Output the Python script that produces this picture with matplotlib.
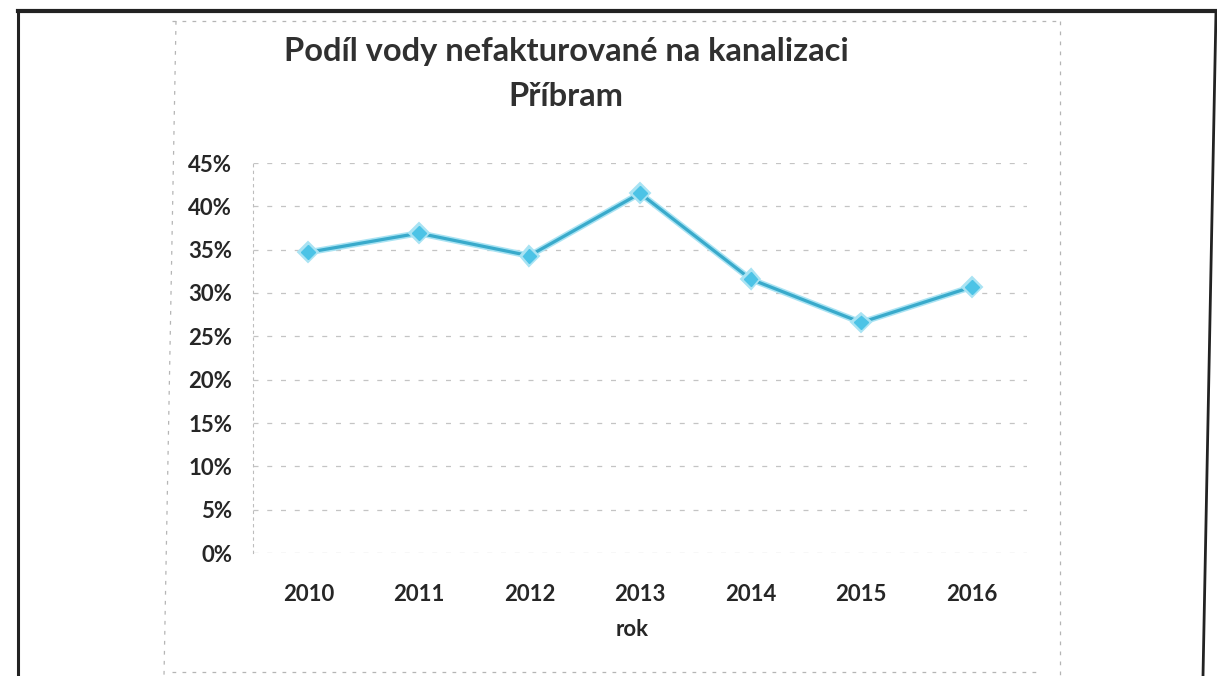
import matplotlib
matplotlib.use("Agg")
import matplotlib.pyplot as plt
import matplotlib.patheffects as pe
from matplotlib.lines import Line2D
from matplotlib.ticker import FuncFormatter

# data
years = ["2010", "2011", "2012", "2013", "2014", "2015", "2016"]
share_pct = [34.7, 36.9, 34.3, 41.5, 31.6, 26.6, 30.7]
yticks_pct = [0, 5, 10, 15, 20, 25, 30, 35, 40, 45]

title_line1 = "Podíl vody nefakturované na kanalizaci"
title_line2 = "Příbram"
xlabel = "rok"

W, H = 1217, 676
fig = plt.figure(figsize=(W / 100, H / 100), dpi=100)
fig.patch.set_facecolor("white")
plt.rcParams["font.family"] = ["Lato", "DejaVu Sans"]

def px(x, y):
    return x / W, 1 - y / H

# page frame: thick black border of the document table
fig.add_artist(Line2D([px(18, 0)[0], px(1217, 0)[0]], [px(0, 11)[1]] * 2,
                      color="#222222", lw=3.0))
fig.add_artist(Line2D([px(18, 0)[0]] * 2, [px(0, 11)[1], 0],
                      color="#222222", lw=2.2))
fig.add_artist(Line2D([px(1216, 0)[0], px(1203, 0)[0]], [px(0, 11)[1], 0],
                      color="#222222", lw=2.0))

# faint dashed chart-area frame
frame_kw = dict(color="#b5b5b5", lw=0.9, ls=(0, (3, 5)))
fig.add_artist(Line2D([px(172, 0)[0], px(1060, 0)[0]], [px(0, 21)[1]] * 2, **frame_kw))
fig.add_artist(Line2D([px(176, 0)[0], px(164, 0)[0]], [px(0, 21)[1], 0], **frame_kw))
fig.add_artist(Line2D([px(1060, 0)[0]] * 2, [px(0, 21)[1], 0], **frame_kw))
fig.add_artist(Line2D([px(172, 0)[0], px(1040, 0)[0]], [px(0, 672)[1]] * 2, **frame_kw))

# plot area
left, right, top, bottom = 253, 1027, 163, 553
ax = fig.add_axes([left / W, 1 - bottom / H, (right - left) / W, (bottom - top) / H])
ax.set_facecolor("none")

x = list(range(len(years)))
ax.plot(x, share_pct, color="#39aacb", lw=2.3, marker="D", ms=7,
        markerfacecolor="#4cc3e6", markeredgecolor="#4cc3e6", zorder=3,
        path_effects=[pe.Stroke(linewidth=4.5, foreground="#a9e3f3"), pe.Normal()])

ax.set_xlim(-0.5, len(years) - 0.5)
ax.set_ylim(0, 45)
ax.set_xticks(x)
ax.set_xticklabels(years)
ax.set_yticks(yticks_pct)
ax.yaxis.set_major_formatter(FuncFormatter(lambda v, _: f"{v:.0f}%"))

for yv in yticks_pct:
    ax.axhline(yv, color="#c4c4c4", lw=0.9, ls=(0, (4, 7)), zorder=1)

for s in ["top", "right", "bottom"]:
    ax.spines[s].set_visible(False)
ax.spines["left"].set_color("#bdbdbd")
ax.spines["left"].set_linestyle((0, (2, 4)))
ax.spines["left"].set_linewidth(0.8)

ax.tick_params(axis="both", length=0, labelsize=16, labelcolor="#262626")
ax.tick_params(axis="x", pad=22)
ax.tick_params(axis="y", pad=15)
for lab in ax.get_xticklabels() + ax.get_yticklabels():
    lab.set_fontweight("bold")

fig.text(*px(566, 52), title_line1, ha="center", va="center",
         fontsize=23.5, fontweight="bold", color="#303030")
fig.text(*px(566, 97), title_line2, ha="center", va="center",
         fontsize=23.5, fontweight="bold", color="#303030")
fig.text(*px(632, 630), xlabel, ha="center", va="center",
         fontsize=16, fontweight="bold", color="#262626")

fig.savefig("out.png", dpi=100, facecolor="white")
